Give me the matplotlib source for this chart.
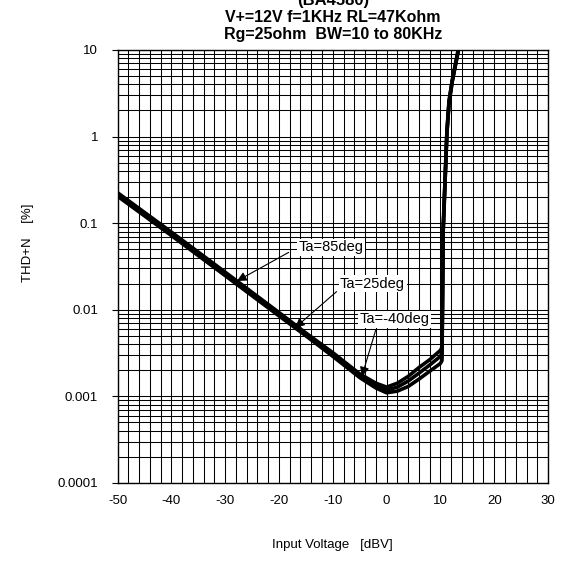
import numpy as np
import matplotlib
matplotlib.use('Agg')
import matplotlib.pyplot as plt
from matplotlib.ticker import FixedLocator, NullFormatter

plt.rcParams['font.family'] = ['Liberation Sans', 'DejaVu Sans']
plt.rcParams['axes.unicode_minus'] = False

# THD+N vs input level, three ambient temperatures
vin = [-50, -40, -30, -20, -15, -10, -5, -2, 0, 2, 4, 6, 8, 10, 10.3, 10.5, 11.2, 11.6, 12.2, 13.3, 13.6]
thd_85 = [0.225, 0.079, 0.0272, 0.0093, 0.0054, 0.0032, 0.00182, 0.00142, 0.00128, 0.00142, 0.00170,
          0.00215, 0.00265, 0.0034, 0.0037, 0.085, 1.15, 2.6, 4.5, 10.0, 12.0]
thd_25 = [0.215, 0.0755, 0.026, 0.0089, 0.0052, 0.0030, 0.00172, 0.00132, 0.00118, 0.00128, 0.00150,
          0.00185, 0.00230, 0.0029, 0.0032, 0.080, 1.10, 2.5, 4.4, 9.8, 12.0]
thd_m40 = [0.205, 0.072, 0.0248, 0.0085, 0.0050, 0.0029, 0.00165, 0.00125, 0.00110, 0.00115, 0.00130,
           0.00158, 0.00195, 0.0024, 0.0026, 0.075, 1.05, 2.4, 4.3, 9.6, 12.0]

labels = ['Ta=85deg', 'Ta=25deg', 'Ta=-40deg']
label_pos = [(-10.3, 0.0525), (-2.6, 0.0199), (1.4, 0.0078)]
arrow_tail = [(-18.2, 0.046), (-9.3, 0.0162), (-2.0, 0.0059)]
arrow_head = [(-27.8, 0.0215), (-17.0, 0.0062), (-4.6, 0.0017)]

fig = plt.figure(figsize=(5.65, 5.62), dpi=100)
ax = fig.add_axes([0.208, 0.1406, 0.762, 0.7705])

for y in (thd_85, thd_25, thd_m40):
    ax.plot(vin, y, color='black', lw=2.6, solid_joinstyle='round', zorder=3)

ax.set_yscale('log')
ax.set_xlim(-50, 30)
ax.set_ylim(1e-4, 10)

ax.xaxis.set_major_locator(FixedLocator(np.arange(-50, 31, 10)))
ax.xaxis.set_minor_locator(FixedLocator(np.arange(-50, 31, 2)))
ax.set_yticks([1e-4, 1e-3, 1e-2, 0.1, 1, 10])
ax.set_yticklabels(['0.0001', '0.001', '0.01', '0.1', '1', '10'])
minor_y = [m * 10.0 ** e for e in range(-4, 1) for m in range(2, 10)]
ax.yaxis.set_minor_locator(FixedLocator(minor_y))
ax.yaxis.set_minor_formatter(NullFormatter())

ax.grid(True, which='both', color='black', lw=0.75)
ax.tick_params(axis='x', which='both', length=0, labelsize=9.5, pad=9)
ax.tick_params(axis='y', which='major', length=4, width=0.8, labelsize=9.5, pad=10)
ax.tick_params(axis='y', which='minor', length=0)
for s in ax.spines.values():
    s.set_linewidth(1.0)

for txt, p, t, h in zip(labels, label_pos, arrow_tail, arrow_head):
    ax.text(p[0], p[1], txt, ha='center', va='center', fontsize=10.5, zorder=5,
            bbox=dict(facecolor='white', edgecolor='none', pad=1.0))
    ax.annotate('', xy=h, xytext=t, zorder=6,
                arrowprops=dict(arrowstyle='-|>', color='black', lw=0.8,
                                mutation_scale=14, shrinkA=0, shrinkB=0))

cx = ax.get_position().x0 + ax.get_position().width / 2
fig.text(cx, 1 - 8 / 562, '(BA4580)', ha='center', va='bottom', fontsize=12, fontweight='bold')
fig.text(cx, 1 - 18 / 562, 'V+=12V f=1KHz RL=47Kohm', ha='center', va='center', fontsize=11.5, fontweight='bold')
fig.text(cx, 1 - 35 / 562, 'Rg=25ohm  BW=10 to 80KHz', ha='center', va='center', fontsize=11.5, fontweight='bold')

fig.text(cx, 1 - 545 / 562, 'Input Voltage   [dBV]', ha='center', va='center', fontsize=9.5)
fig.text(28 / 565, 1 - 243 / 562, 'THD+N    [%]', ha='center', va='center', rotation=90, fontsize=9.5)

fig.savefig('out.png', dpi=100)
